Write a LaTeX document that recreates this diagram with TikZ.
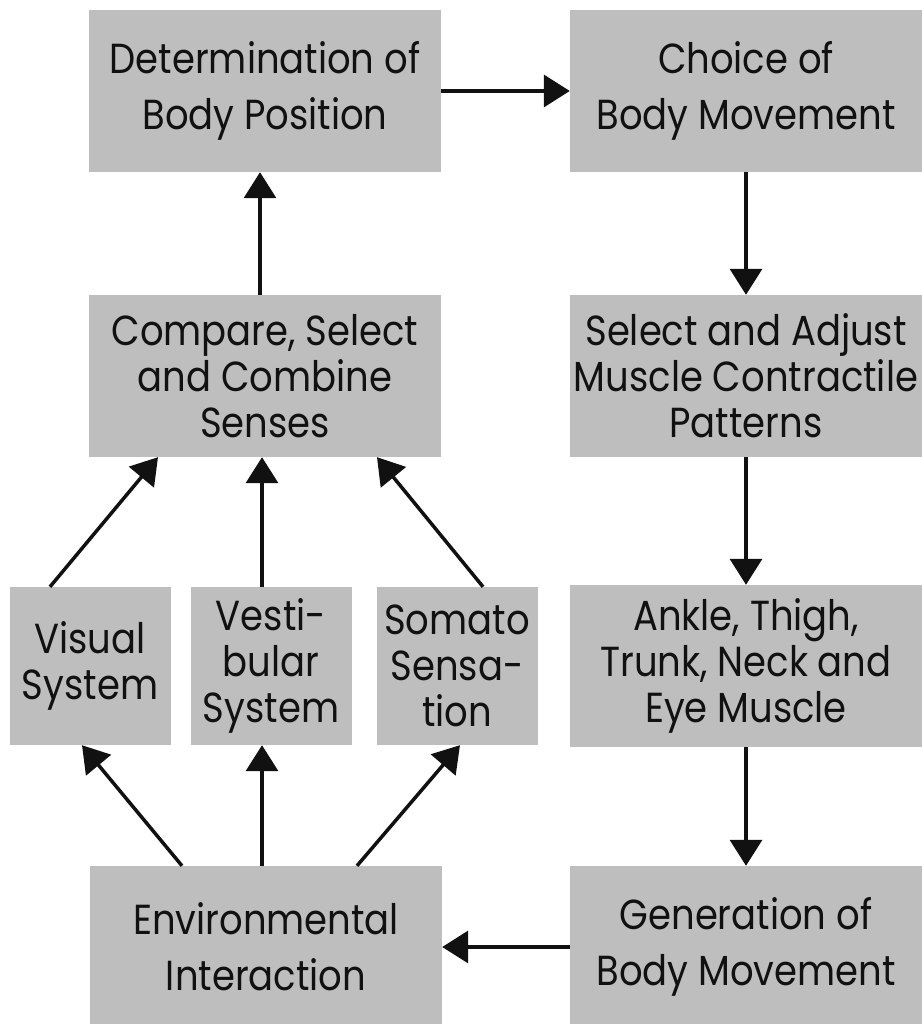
\documentclass[tikz,border=0pt]{standalone}
\usepackage{fontspec}
\usepackage{xcolor}
\usepackage{tikz}
\usetikzlibrary{arrows.meta,positioning}
\newfontfamily\boxfont[FakeStretch=0.88]{Poppins}
\definecolor{boxgray}{HTML}{BEBEBE}
\definecolor{ink}{HTML}{111111}
\tikzset{
  stage/.style={fill=boxgray,minimum width=352pt,minimum height=162pt,
                inner sep=0pt,align=center,text=ink,
                font=\boxfont\fontsize{42}{46}\selectfont},
  sense/.style={stage,minimum width=161pt,minimum height=158pt},
  flow/.style={-{Triangle[length=26pt,width=32pt]},line width=3.5pt,ink},
}
\begin{document}
\begin{tikzpicture}[x=1pt,y=1pt]
  % canvas: 921 x 1024, y counted from the bottom
  \useasboundingbox(0,0)rectangle(921,1024);

  % left column: sensing
  \node[stage](pos)at(265,933){Determination of\\[10pt]Body Position};
  \node[stage](compare)at(265,648){Compare, Select\\and Combine\\Senses};
  \node[sense](visual)at(90,358){Visual\\System};
  \node[sense](vestib)at(271,358){Vesti-\\bular\\System};
  \node[sense](somato)at(457,358){Somato\\Sensa-\\tion};
  \node[stage](env)at(266,77){Environmental\\[10pt]Interaction};

  % right column: acting
  \node[stage](choice)at(746,933){Choice of\\[10pt]Body Movement};
  \node[stage](select)at(746,648){Select and Adjust\\Muscle Contractile\\Patterns};
  \node[stage](muscle)at(746,358){Ankle, Thigh,\\Trunk, Neck and\\Eye Muscle};
  \node[stage](gen)at(746,77){Generation of\\[10pt]Body Movement};

  % main loop
  \draw[flow](pos.east)--(choice.west);
  \draw[flow](choice.south)--(select.north);
  \draw[flow](select.south)--(muscle.north);
  \draw[flow](muscle.south)--(gen.north);
  \draw[flow](gen.west)--(env.east);
  \draw[flow]([xshift=-5pt]compare.north)--([xshift=-5pt]pos.south);

  % senses into the comparison
  \draw[flow]([xshift=-40pt]visual.north)--([xshift=-107pt]compare.south);
  \draw[flow]([xshift=-9pt]vestib.north)--([xshift=-3pt]compare.south);
  \draw[flow]([xshift=26pt]somato.north)--([xshift=112pt]compare.south);

  % environment feeds the senses
  \draw[flow]([xshift=-84pt]env.north)--([xshift=-8pt]visual.south);
  \draw[flow]([xshift=-4pt]env.north)--([xshift=-9pt]vestib.south);
  \draw[flow]([xshift=91pt]env.north)--([xshift=3pt]somato.south);
\end{tikzpicture}
\end{document}
